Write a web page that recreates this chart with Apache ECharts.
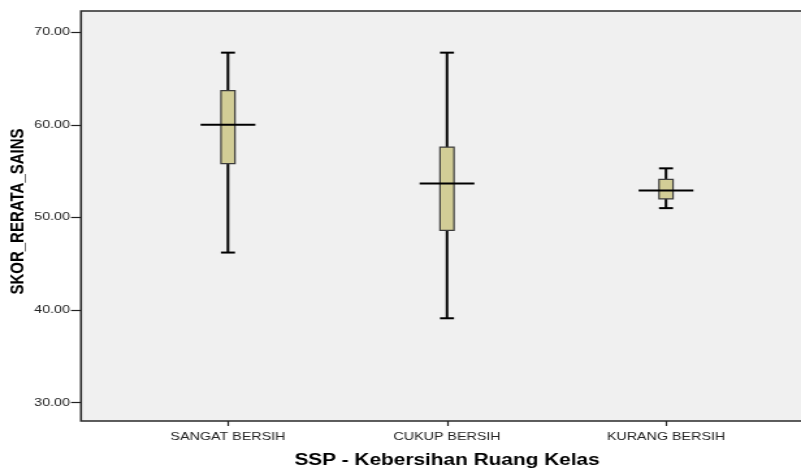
<!DOCTYPE html>
<html>
<head>
<meta charset="utf-8">
<script src="https://cdn.jsdelivr.net/npm/echarts@6/dist/echarts.min.js"></script>
<style>
  html, body { margin: 0; padding: 0; background: #fff; overflow: hidden; }
  #wrap { width: 801px; height: 468px; overflow: hidden; }
  /* The chart is laid out narrow and widened horizontally, like the stretched SPSS export */
  #chart { width: 616px; height: 468px; transform: scaleX(1.30032); transform-origin: 0 0; }
</style>
</head>
<body>
<div id="wrap"><div id="chart"></div></div>
<script>
// Groups on the x axis
const categories = ['SANGAT BERSIH', 'CUKUP BERSIH', 'KURANG BERSIH'];
// Five-number summary per group
const whiskerLow  = [46.2, 39.1, 51.0];
const quartile1   = [55.8, 48.6, 52.0];
const medians     = [60.0, 53.65, 52.9];
const quartile3   = [63.7, 57.6, 54.1];
const whiskerHigh = [67.8, 67.8, 55.3];
// Tick labels on the value axis
const yTicks = [30, 40, 50, 60, 70];

const xTitle = 'SSP - Kebersihan Ruang Kelas';
const yTitle = 'SKOR_RERATA_SAINS';

const FONT = "'Liberation Sans', Arial, sans-serif";
const Y_MIN = 28, Y_MAX = 72.3;

const boxRows = categories.map((c, i) =>
  [i, whiskerLow[i], quartile1[i], medians[i], quartile3[i], whiskerHigh[i]]);

function renderBox(params, api) {
  const i = api.value(0);
  const lo = api.coord([i, api.value(1)]);
  const q1 = api.coord([i, api.value(2)]);
  const md = api.coord([i, api.value(3)]);
  const q3 = api.coord([i, api.value(4)]);
  const hi = api.coord([i, api.value(5)]);
  const band = api.size([1, 0])[0];
  const half = band * 0.032;
  const medHalf = band * 0.125;
  const x = lo[0];
  const stroke = { stroke: '#000', lineWidth: 2 };
  return {
    type: 'group',
    children: [
      { type: 'line', shape: { x1: x, y1: lo[1], x2: x, y2: hi[1] }, style: stroke },
      { type: 'line', shape: { x1: x - half, y1: lo[1], x2: x + half, y2: lo[1] }, style: stroke },
      { type: 'line', shape: { x1: x - half, y1: hi[1], x2: x + half, y2: hi[1] }, style: stroke },
      { type: 'rect', shape: { x: x - half, y: q3[1], width: half * 2, height: q1[1] - q3[1] },
        style: { fill: '#d2cd96', stroke: '#3c3c3c', lineWidth: 1.2 } },
      { type: 'line', shape: { x1: x - medHalf, y1: md[1], x2: x + medHalf, y2: md[1] }, style: stroke }
    ]
  };
}

const chart = echarts.init(document.getElementById('chart'), null, { renderer: 'canvas' });
chart.setOption({
  animation: false,
  backgroundColor: '#fff',
  grid: [
    { // plot frame
      left: 62.3, top: 11, right: -9.2, height: 410,
      outerBoundsMode: 'none', containLabel: false,
      show: true, backgroundColor: '#f0f0f0', borderColor: '#2a2a2a', borderWidth: 1.6
    },
    { // category band area
      left: 91.1, top: 11, width: 505.3, height: 410,
      outerBoundsMode: 'none', containLabel: false
    }
  ],
  xAxis: [
    { gridIndex: 0, type: 'value', min: 0, max: 1, show: false },
    {
      gridIndex: 1, type: 'category', data: categories, boundaryGap: true,
      axisLine: { show: false },
      axisTick: { show: true, alignWithLabel: true, length: 5, lineStyle: { color: '#222', width: 1.2 } },
      axisLabel: { margin: 10, color: '#222', fontSize: 11, fontFamily: FONT },
      name: xTitle, nameLocation: 'middle', nameGap: 32, nameMoveOverlap: false,
      nameTextStyle: { color: '#000', fontSize: 16, fontWeight: 'bold', fontFamily: FONT }
    }
  ],
  yAxis: [
    {
      gridIndex: 0, type: 'value', min: Y_MIN, max: Y_MAX,
      splitLine: { show: false },
      axisLine: { show: false },
      axisTick: { show: true, length: 7.7, customValues: yTicks, lineStyle: { color: '#222', width: 1.2 } },
      axisLabel: {
        customValues: yTicks, margin: 8.5, color: '#222', fontSize: 11, fontFamily: FONT,
        formatter: v => v.toFixed(2)
      },
      name: yTitle, nameLocation: 'middle', nameGap: 41, nameMoveOverlap: false,
      nameTextStyle: { color: '#000', fontSize: 15, fontWeight: 'bold', fontFamily: FONT, padding: [0, 0, 0, 9] }
    },
    { gridIndex: 1, type: 'value', min: Y_MIN, max: Y_MAX, show: false, splitLine: { show: false } }
  ],
  series: [{
    type: 'custom',
    xAxisIndex: 1, yAxisIndex: 1,
    data: boxRows,
    renderItem: renderBox,
    clip: false
  }]
});
</script>
</body>
</html>
